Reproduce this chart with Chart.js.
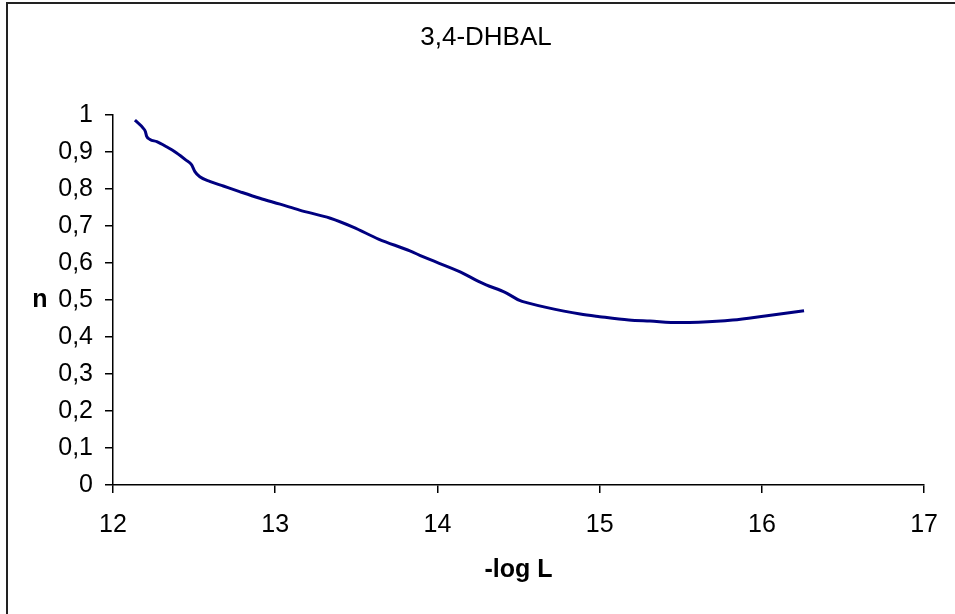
<!DOCTYPE html>
<html>
<head>
<meta charset="utf-8">
<script src="https://cdn.jsdelivr.net/npm/chart.js@4"></script>
<style>
  html, body { margin: 0; padding: 0; background: #fff; overflow: hidden; }
  #wrap { position: relative; width: 955px; height: 614px; }
  #frame { position: absolute; left: 6px; top: 2px; width: 1000px; height: 700px;
           border-left: 2px solid #222; border-top: 2px solid #222; }
  canvas { position: absolute; left: 0; top: 0; }
</style>
</head>
<body>
<div id="wrap">
  <div id="frame"></div>
  <canvas id="chart" width="955" height="614"></canvas>
</div>
<script>
/* ---------- DATA ---------- */
const logL = [12.135, 12.187, 12.2, 12.207, 12.228, 12.27, 12.33, 12.39, 12.45, 12.485,
  12.505, 12.535, 12.6, 12.68, 12.78, 12.905, 13.03, 13.15, 13.34, 13.48,
  13.64, 13.83, 13.91, 14.14, 14.26, 14.3, 14.42, 14.51, 14.55, 14.67,
  14.88, 15.0, 15.18, 15.31, 15.49, 15.61, 15.82, 16.02, 16.26];
const nValues = [0.986, 0.964, 0.955, 0.943, 0.934, 0.928, 0.914, 0.898, 0.878, 0.865,
  0.847, 0.833, 0.82, 0.808, 0.793, 0.775, 0.759, 0.743, 0.721, 0.697,
  0.664, 0.633, 0.617, 0.576, 0.549, 0.541, 0.52, 0.498, 0.493, 0.48,
  0.462, 0.455, 0.446, 0.443, 0.439, 0.44, 0.446, 0.457, 0.471];
const xTicks = [12, 13, 14, 15, 16, 17];
const yTicks = [0, 0.1, 0.2, 0.3, 0.4, 0.5, 0.6, 0.7, 0.8, 0.9, 1];

const FONT = "'Liberation Sans', Arial, sans-serif";

/* ---------- title and upright "n" label ---------- */
const labels = {
  id: "labels",
  afterDraw(chart) {
    const ctx = chart.ctx;
    ctx.save();
    ctx.fillStyle = "#000";
    ctx.textAlign = "center";
    ctx.textBaseline = "middle";
    ctx.font = "26px " + FONT;
    ctx.fillText("3,4-DHBAL", 486, 38);
    ctx.font = "bold 25px " + FONT;
    ctx.fillText("n", 40, chart.scales.y.getPixelForValue(0.5));
    ctx.restore();
  }
};

const points = logL.map((x, i) => ({ x: x, y: nValues[i] }));

new Chart(document.getElementById("chart").getContext("2d"), {
  type: "line",
  data: {
    datasets: [{
      data: points,
      borderColor: "#000080",
      borderWidth: 3,
      pointRadius: 0,
      fill: false,
      cubicInterpolationMode: "monotone"
    }]
  },
  options: {
    responsive: false,
    animation: false,
    layout: { padding: { left: 0, right: 30, top: 115, bottom: 0 } },
    plugins: {
      legend: { display: false },
      tooltip: { enabled: false }
    },
    scales: {
      x: {
        type: "linear",
        min: 12,
        max: 17,
        afterBuildTicks: s => { s.ticks = xTicks.map(v => ({ value: v })); },
        afterFit: s => { s.height = 129; },
        ticks: { color: "#000", font: { family: FONT, size: 25 }, padding: 17 },
        grid: { drawOnChartArea: false, drawTicks: true, tickLength: 8, color: "#000", lineWidth: 1.5 },
        border: { display: true, color: "#000", width: 1.5 },
        title: {
          display: true,
          text: "-log L",
          color: "#000",
          font: { family: FONT, size: 25, weight: "bold" },
          padding: { top: 4, bottom: 29 }
        }
      },
      y: {
        min: 0,
        max: 1,
        afterBuildTicks: s => { s.ticks = yTicks.map(v => ({ value: v })); },
        afterFit: s => { s.width = 113; },
        ticks: {
          color: "#000",
          font: { family: FONT, size: 25 },
          padding: 12,
          callback: v => String(Number(v.toFixed(1))).replace(".", ",")
        },
        grid: { drawOnChartArea: false, drawTicks: true, tickLength: 8, color: "#000", lineWidth: 1.5 },
        border: { display: true, color: "#000", width: 1.5 }
      }
    }
  },
  plugins: [labels]
});
</script>
</body>
</html>
